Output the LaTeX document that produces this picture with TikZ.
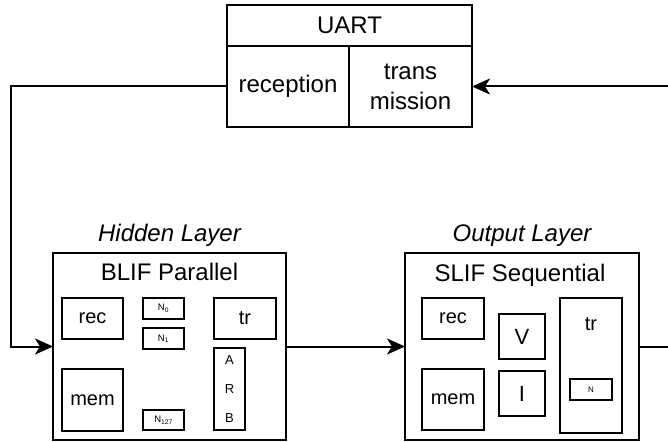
\documentclass[tikz,border=0pt]{standalone}
\usepackage{fontspec}
\setmainfont{Liberation Sans}
\usetikzlibrary{arrows.meta}
\begin{document}
\begin{tikzpicture}[x=1pt,y=-1pt,
  bx/.style={draw=black,line width=2pt,rectangle,inner sep=0pt,outer sep=0pt},
  fbig/.style={font=\fontsize{24}{30}\selectfont},
  fmid/.style={font=\fontsize{20}{24}\selectfont},
  fsmall/.style={font=\fontsize{9.5}{10}\selectfont},
  conn/.style={line width=2pt},
  arr/.style={conn,-{Stealth[length=18pt,width=16pt,inset=5pt]}}]
\useasboundingbox (0,0) rectangle (668,441);
% UART
\node[bx,fbig,minimum width=245pt,minimum height=41pt] (uart) at (349.5,25.5) {UART};
\node[bx,fbig,minimum width=122pt,minimum height=81pt] (recp) at (288,86.5) {reception};
\node[bx,fbig,minimum width=123pt,minimum height=81pt,align=center] (trans) at (410.5,86.5) {trans\\mission};
% layer labels
\node[font=\fontsize{24}{30}\selectfont\itshape,anchor=base] (hid) at (169.5,241) {Hidden Layer};
\node[font=\fontsize{24}{30}\selectfont\itshape,anchor=base] (outl) at (522,241) {Output Layer};
% BLIF
\node[bx,minimum width=233pt,minimum height=187pt] (blif) at (169.5,346.5) {};
\node[fbig,anchor=base] (bliftitle) at (169.5,280) {BLIF Parallel};
\node[bx,fmid,minimum width=61pt,minimum height=41pt] (brec) at (92.5,318.5) {rec};
\node[bx,fmid,minimum width=61pt,minimum height=62pt] (bmem) at (92.5,400) {mem};
\node[bx,fsmall,minimum width=41pt,minimum height=21pt] (n0) at (163.5,308.5) {N\textsubscript{0}};
\node[bx,fsmall,minimum width=41pt,minimum height=21pt] (n1) at (163.5,338.5) {N\textsubscript{1}};
\node[bx,fsmall,minimum width=41pt,minimum height=20pt] (n127) at (163.5,420) {N\textsubscript{127}};
\node[bx,fmid,minimum width=62pt,minimum height=41pt] (btr) at (245,318.5) {tr};
\node[bx,font=\fontsize{13}{29}\selectfont,align=center,minimum width=31pt,minimum height=82pt] (arb) at (229.5,389) {A\\R\\B};
% SLIF
\node[bx,minimum width=234pt,minimum height=187pt] (slif) at (522,346.5) {};
\node[fbig,anchor=base] (sliftitle) at (520,281) {SLIF Sequential};
\node[bx,fmid,minimum width=62pt,minimum height=41pt] (srec) at (453,318.5) {rec};
\node[bx,fmid,minimum width=62pt,minimum height=61pt] (smem) at (453,399.5) {mem};
\node[bx,font=\fontsize{22}{26}\selectfont,minimum width=46pt,minimum height=45pt] (vv) at (522,336.5) {V};
\node[bx,font=\fontsize{22}{26}\selectfont,minimum width=46pt,minimum height=45pt] (ii) at (522,393.5) {I};
\node[bx,minimum width=62pt,minimum height=135pt] (str) at (591,365.5) {};
\node[fmid] (strtxt) at (591,324) {tr};
\node[bx,font=\fontsize{8}{9}\selectfont,minimum width=42pt,minimum height=21pt] (nn) at (591,389.5) {N};
% connectors
\coordinate (lc) at (11,0);
\coordinate (rc) at (676,0);
\draw[arr] (recp.west) -| (lc |- blif.west) -- (blif.west);
\draw[arr] (blif.east) -- (slif.west);
\draw[arr] (slif.east) -| (rc |- trans.east) -- (trans.east);
\end{tikzpicture}
\end{document}
